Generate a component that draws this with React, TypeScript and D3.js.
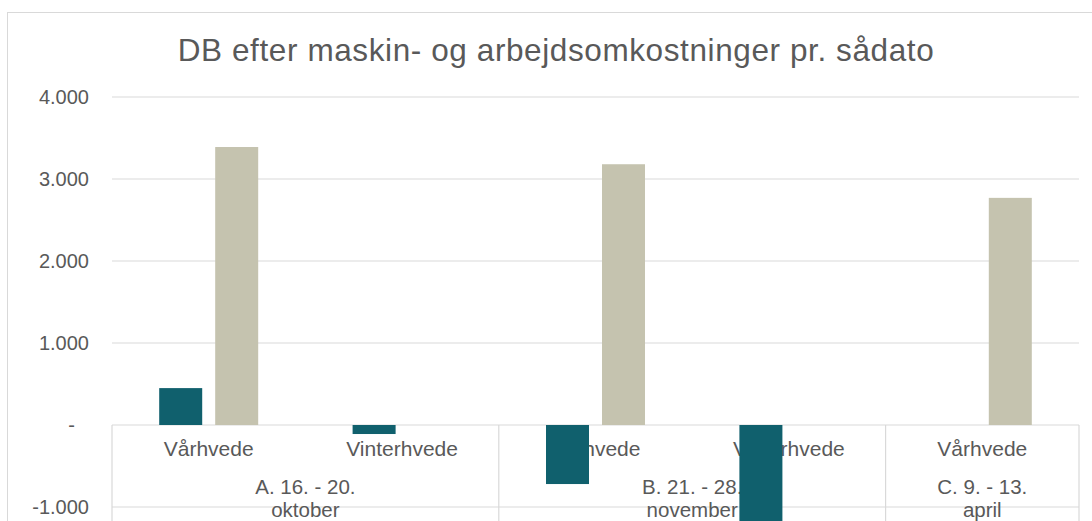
import * as d3 from "d3";

// categories: [group, crop]
const categories = ["A-Vår", "A-Vinter", "B-Vår", "B-Vinter", "C-Vår"];
const cropLabels = ["Vårhvede", "Vinterhvede", "Vårhvede", "Vinterhvede", "Vårhvede"];
const groupLabels = [
  ["A. 16. - 20.", "oktober"],
  ["B. 21. - 28.", "november"],
  ["C. 9. - 13.", "april"],
];
const groupStarts = [0, 2, 4]; // index of first category in each group
const seriesNames = ["Serie 1", "Serie 2"];
const series1 = [450, -110, -720, -1600, null];
const series2 = [3390, null, 3180, null, 2770];
const yTicks = [-1000, 0, 1000, 2000, 3000, 4000];
const yTickLabels = ["-1.000", "-", "1.000", "2.000", "3.000", "4.000"];

const W = 1092;
const H = 521;
const FONT = "'Liberation Sans', Arial, sans-serif";
const GRID = "#d9d9d9";
const TEXT = "#595959";
const COLORS = ["#10606d", "#c5c3af"];

export default function App() {
  const x0 = d3.scaleBand<string>().domain(categories).range([112, 1079]).padding(0);
  const x1 = d3
    .scaleBand<string>()
    .domain(seriesNames)
    .range([0, x0.bandwidth()])
    .paddingInner(0.232)
    .paddingOuter(0.843);
  const y = d3.scaleLinear().domain([-1000, 4000]).range([507, 97]);

  const [xMin, xMax] = x0.range();
  const values = [series1, series2];

  return (
    <svg
      width={W}
      height={H}
      style={{ position: "absolute", left: 0, top: 0, background: "#fff" }}
      fontFamily={FONT}
    >
      <rect x={7.5} y={12.5} width={1100} height={600} fill="#fff" stroke={GRID} />

      <text x={556} y={61} textAnchor="middle" fontSize={31.5} letterSpacing={0.6} fill={TEXT}>
        DB efter maskin- og arbejdsomkostninger pr. sådato
      </text>

      {/* gridlines + y labels */}
      {yTicks.map((t, i) => (
        <g key={t}>
          {t !== 0 && <line x1={xMin} x2={xMax} y1={y(t)} y2={y(t)} stroke={GRID} strokeWidth={1.2} />}
          <text
            x={t === 0 ? 75 : 89}
            y={y(t)}
            dy="0.36em"
            textAnchor="end"
            fontSize={20}
            fill={TEXT}
          >
            {yTickLabels[i]}
          </text>
        </g>
      ))}

      {/* category axis table */}
      <line x1={xMin} x2={xMax} y1={y(0)} y2={y(0)} stroke={GRID} strokeWidth={1.2} />
      {groupStarts.map((s) => (
        <line key={s} x1={x0(categories[s])!} x2={x0(categories[s])!} y1={y(0)} y2={H} stroke={GRID} strokeWidth={1.2} />
      ))}
      <line x1={xMax} x2={xMax} y1={y(0)} y2={H} stroke={GRID} strokeWidth={1.2} />

      {cropLabels.map((c, i) => (
        <text
          key={i}
          x={x0(categories[i])! + x0.bandwidth() / 2}
          y={456}
          textAnchor="middle"
          fontSize={21}
          fill={TEXT}
        >
          {c}
        </text>
      ))}
      {groupLabels.map((lines, g) => {
        const start = x0(categories[groupStarts[g]])!;
        const end = g + 1 < groupStarts.length ? x0(categories[groupStarts[g + 1]])! : xMax;
        return (
          <text key={g} x={(start + end) / 2} y={494} textAnchor="middle" fontSize={20.5} fill={TEXT}>
            {lines.map((l, k) => (
              <tspan key={k} x={(start + end) / 2} dy={k === 0 ? 0 : 23}>
                {l}
              </tspan>
            ))}
          </text>
        );
      })}

      {/* bars */}
      {values.map((vals, si) =>
        vals.map((v, ci) =>
          v === null ? null : (
            <rect
              key={`${si}-${ci}`}
              x={x0(categories[ci])! + x1(seriesNames[si])!}
              y={y(Math.max(0, v))}
              width={x1.bandwidth()}
              height={Math.abs(y(v) - y(0))}
              fill={COLORS[si]}
            />
          )
        )
      )}
    </svg>
  );
}
